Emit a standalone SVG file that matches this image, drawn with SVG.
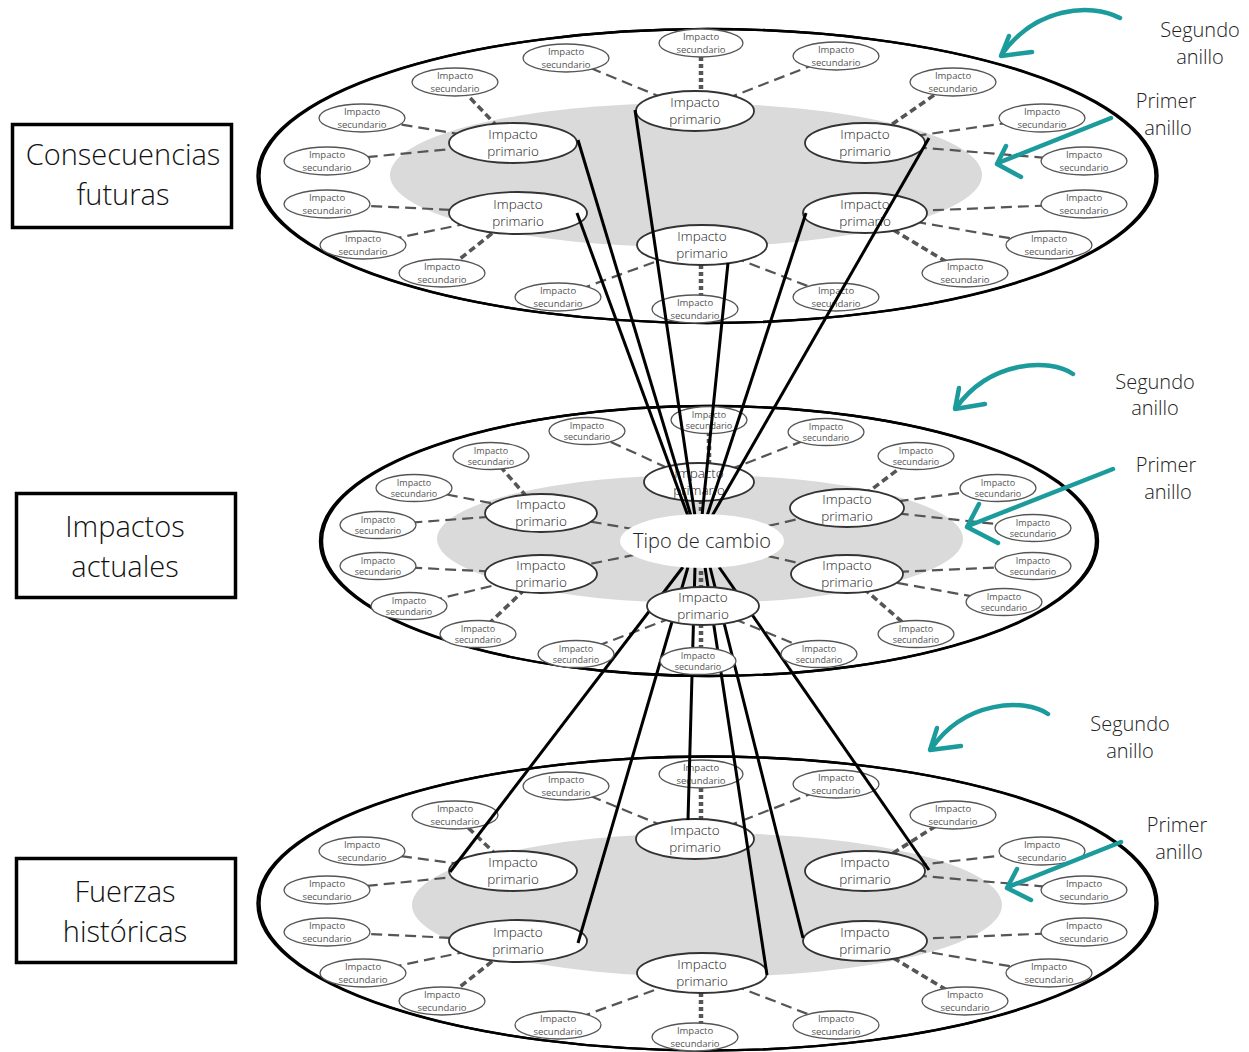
<svg xmlns="http://www.w3.org/2000/svg" width="1249" height="1052" viewBox="0 0 1249 1052">
<style>
text{font-family:"Open Sans","Liberation Sans",sans-serif;text-anchor:middle}
.disk{fill:#fff;stroke:#000;stroke-width:2.4}
.diskb{fill:none;stroke:#000;stroke-width:2.4}
.ring1{fill:#dadada}
.p ellipse{fill:#fff;stroke:#333;stroke-width:1.8}
.p text{font-size:13.5px;font-weight:300;fill:#222}
.s ellipse{fill:#fff;stroke:#555;stroke-width:1.3}
.s text{font-size:9.5px;fill:#555}
.m.s text{font-size:9px}
.dash{stroke:#555;stroke-width:2.2;stroke-dasharray:11 6;fill:none}
.thick{stroke:#555;stroke-width:3.6;stroke-dasharray:7 4;fill:none}
.dot{stroke:#555;stroke-width:4.5;stroke-dasharray:4 3;fill:none}
.solid{stroke:#000;stroke-width:3;fill:none}
.teal{stroke:#1b9b9b;stroke-width:4.5;fill:none;stroke-linecap:round;stroke-linejoin:round}
.box rect{fill:#fff;stroke:#000;stroke-width:3.5}
.box text{font-size:29px;font-weight:300;fill:#111}
.lab{font-size:20px;font-weight:300;fill:#222}
</style>

<!-- disks -->
<g id="disk-top">
<ellipse class="disk" cx="707.5" cy="176" rx="450" ry="147"/>
<ellipse class="diskb" cx="707.5" cy="176" rx="448" ry="147"/>
<ellipse class="ring1" cx="686" cy="175" rx="296" ry="72"/>
</g>
<g id="disk-mid">
<ellipse class="disk" cx="709" cy="541" rx="389" ry="135"/>
<ellipse class="diskb" cx="709" cy="541" rx="387" ry="135"/>
<ellipse class="ring1" cx="700" cy="539" rx="263" ry="64"/>
</g>
<g id="disk-bot">
<ellipse class="disk" cx="707.5" cy="903.5" rx="450" ry="147"/>
<ellipse class="diskb" cx="707.5" cy="903.5" rx="448" ry="147"/>
<ellipse class="ring1" cx="707" cy="905" rx="295" ry="72"/>
</g>

<!-- dashed connectors -->
<g id="connectors-dashed">
<!-- top -->
<line class="dot" x1="701" y1="57" x2="701" y2="92"/>
<line class="dash" x1="695" y1="111" x2="566" y2="58"/>
<line class="dash" x1="695" y1="111" x2="836" y2="56"/>
<line class="thick" x1="513" y1="143" x2="455" y2="82"/>
<line class="dash" x1="513" y1="143" x2="362" y2="118"/>
<line class="dash" x1="513" y1="143" x2="327" y2="161"/>
<line class="dash" x1="518" y1="213" x2="327" y2="204"/>
<line class="dash" x1="518" y1="213" x2="363" y2="245"/>
<line class="thick" x1="518" y1="213" x2="442" y2="273"/>
<line class="dash" x1="702" y1="245" x2="558" y2="297"/>
<line class="dot" x1="701" y1="265" x2="701" y2="296"/>
<line class="dash" x1="702" y1="245" x2="836" y2="297"/>
<line class="thick" x1="865" y1="143" x2="953" y2="82"/>
<line class="dash" x1="865" y1="143" x2="1042" y2="118"/>
<line class="dash" x1="865" y1="143" x2="1084" y2="161"/>
<line class="dash" x1="865" y1="213" x2="1084" y2="204"/>
<line class="dash" x1="865" y1="213" x2="1049" y2="245"/>
<line class="thick" x1="865" y1="213" x2="965" y2="273"/>
<!-- middle -->
<line class="dot" x1="709" y1="432" x2="709" y2="464"/>
<line class="dash" x1="698" y1="482" x2="587" y2="431"/>
<line class="dash" x1="698" y1="482" x2="826" y2="432"/>
<line class="thick" x1="541" y1="513" x2="491" y2="456"/>
<line class="dash" x1="541" y1="513" x2="414" y2="488"/>
<line class="dash" x1="541" y1="513" x2="378" y2="525"/>
<line class="dash" x1="541" y1="574" x2="378" y2="566"/>
<line class="dash" x1="541" y1="574" x2="409" y2="606"/>
<line class="thick" x1="541" y1="574" x2="478" y2="634"/>
<line class="dash" x1="703" y1="606" x2="576" y2="654"/>
<line class="dot" x1="701" y1="624" x2="701" y2="649"/>
<line class="dash" x1="703" y1="606" x2="819" y2="654"/>
<line class="thick" x1="847" y1="508" x2="916" y2="456"/>
<line class="dash" x1="847" y1="508" x2="998" y2="488"/>
<line class="dash" x1="847" y1="508" x2="1033" y2="528"/>
<line class="dash" x1="847" y1="574" x2="1033" y2="566"/>
<line class="dash" x1="847" y1="574" x2="1004" y2="602"/>
<line class="thick" x1="847" y1="574" x2="916" y2="634"/>
<line class="dash" x1="702" y1="541" x2="541" y2="513"/>
<line class="dash" x1="702" y1="541" x2="541" y2="574"/>
<line class="dash" x1="702" y1="541" x2="847" y2="508"/>
<line class="dash" x1="702" y1="541" x2="847" y2="574"/>
<line class="dot" x1="701" y1="500" x2="701" y2="520"/>
<line class="dot" x1="701" y1="564" x2="701" y2="588"/>
<!-- bottom -->
<line class="dot" x1="701" y1="788" x2="701" y2="820"/>
<line class="dash" x1="695" y1="839" x2="566" y2="786"/>
<line class="dash" x1="695" y1="839" x2="836" y2="784"/>
<line class="thick" x1="513" y1="871" x2="455" y2="815"/>
<line class="dash" x1="513" y1="871" x2="362" y2="851"/>
<line class="dash" x1="513" y1="871" x2="327" y2="890"/>
<line class="dash" x1="518" y1="941" x2="327" y2="932"/>
<line class="dash" x1="518" y1="941" x2="363" y2="973"/>
<line class="thick" x1="518" y1="941" x2="442" y2="1001"/>
<line class="dash" x1="702" y1="973" x2="558" y2="1025"/>
<line class="dot" x1="701" y1="993" x2="701" y2="1024"/>
<line class="dash" x1="702" y1="973" x2="836" y2="1025"/>
<line class="thick" x1="865" y1="871" x2="953" y2="815"/>
<line class="dash" x1="865" y1="871" x2="1042" y2="851"/>
<line class="dash" x1="865" y1="871" x2="1084" y2="890"/>
<line class="dash" x1="865" y1="941" x2="1084" y2="932"/>
<line class="dash" x1="865" y1="941" x2="1049" y2="973"/>
<line class="thick" x1="865" y1="941" x2="965" y2="1001"/>
</g>

<!-- top disk nodes -->
<g id="t-p1" class="p" transform="translate(695,111)"><ellipse rx="59" ry="20"/><text y="-4">Impacto</text><text y="13">primario</text></g>
<g id="t-p2" class="p" transform="translate(513,143)"><ellipse rx="64" ry="20"/><text y="-4">Impacto</text><text y="13">primario</text></g>
<g id="t-p3" class="p" transform="translate(865,143)"><ellipse rx="60" ry="20"/><text y="-4">Impacto</text><text y="13">primario</text></g>
<g id="t-p4" class="p" transform="translate(518,213)"><ellipse rx="69" ry="21"/><text y="-4">Impacto</text><text y="13">primario</text></g>
<g id="t-p5" class="p" transform="translate(865,213)"><ellipse rx="62" ry="20"/><text y="-4">Impacto</text><text y="13">primario</text></g>
<g id="t-p6" class="p" transform="translate(702,245)"><ellipse rx="65" ry="20"/><text y="-4">Impacto</text><text y="13">primario</text></g>

<g id="t-s1" class="s" transform="translate(701,43)"><ellipse rx="42" ry="14"/><text y="-3">Impacto</text><text y="9.5">secundario</text></g>
<g id="t-s2" class="s" transform="translate(566,58)"><ellipse rx="43" ry="14"/><text y="-3">Impacto</text><text y="9.5">secundario</text></g>
<g id="t-s3" class="s" transform="translate(836,56)"><ellipse rx="43" ry="14"/><text y="-3">Impacto</text><text y="9.5">secundario</text></g>
<g id="t-s4" class="s" transform="translate(455,82)"><ellipse rx="43" ry="14"/><text y="-3">Impacto</text><text y="9.5">secundario</text></g>
<g id="t-s5" class="s" transform="translate(362,118)"><ellipse rx="43" ry="14"/><text y="-3">Impacto</text><text y="9.5">secundario</text></g>
<g id="t-s6" class="s" transform="translate(327,161)"><ellipse rx="43" ry="14"/><text y="-3">Impacto</text><text y="9.5">secundario</text></g>
<g id="t-s7" class="s" transform="translate(327,204)"><ellipse rx="43" ry="14"/><text y="-3">Impacto</text><text y="9.5">secundario</text></g>
<g id="t-s8" class="s" transform="translate(363,245)"><ellipse rx="43" ry="14"/><text y="-3">Impacto</text><text y="9.5">secundario</text></g>
<g id="t-s9" class="s" transform="translate(442,273)"><ellipse rx="43" ry="14"/><text y="-3">Impacto</text><text y="9.5">secundario</text></g>
<g id="t-s10" class="s" transform="translate(558,297)"><ellipse rx="43" ry="14"/><text y="-3">Impacto</text><text y="9.5">secundario</text></g>
<g id="t-s11" class="s" transform="translate(695,309)"><ellipse rx="43" ry="14"/><text y="-3">Impacto</text><text y="9.5">secundario</text></g>
<g id="t-s12" class="s" transform="translate(836,297)"><ellipse rx="43" ry="14"/><text y="-3">Impacto</text><text y="9.5">secundario</text></g>
<g id="t-s13" class="s" transform="translate(953,82)"><ellipse rx="43" ry="14"/><text y="-3">Impacto</text><text y="9.5">secundario</text></g>
<g id="t-s14" class="s" transform="translate(1042,118)"><ellipse rx="43" ry="14"/><text y="-3">Impacto</text><text y="9.5">secundario</text></g>
<g id="t-s15" class="s" transform="translate(1084,161)"><ellipse rx="43" ry="14"/><text y="-3">Impacto</text><text y="9.5">secundario</text></g>
<g id="t-s16" class="s" transform="translate(1084,204)"><ellipse rx="43" ry="14"/><text y="-3">Impacto</text><text y="9.5">secundario</text></g>
<g id="t-s17" class="s" transform="translate(1049,245)"><ellipse rx="43" ry="14"/><text y="-3">Impacto</text><text y="9.5">secundario</text></g>
<g id="t-s18" class="s" transform="translate(965,273)"><ellipse rx="43" ry="14"/><text y="-3">Impacto</text><text y="9.5">secundario</text></g>

<!-- bottom disk nodes -->
<g id="b-p1" class="p" transform="translate(695,839)"><ellipse rx="59" ry="20"/><text y="-4">Impacto</text><text y="13">primario</text></g>
<g id="b-p2" class="p" transform="translate(513,871)"><ellipse rx="64" ry="20"/><text y="-4">Impacto</text><text y="13">primario</text></g>
<g id="b-p3" class="p" transform="translate(865,871)"><ellipse rx="60" ry="20"/><text y="-4">Impacto</text><text y="13">primario</text></g>
<g id="b-p4" class="p" transform="translate(518,941)"><ellipse rx="69" ry="21"/><text y="-4">Impacto</text><text y="13">primario</text></g>
<g id="b-p5" class="p" transform="translate(865,941)"><ellipse rx="62" ry="20"/><text y="-4">Impacto</text><text y="13">primario</text></g>
<g id="b-p6" class="p" transform="translate(702,973)"><ellipse rx="65" ry="20"/><text y="-4">Impacto</text><text y="13">primario</text></g>

<g id="b-s1" class="s" transform="translate(701,774)"><ellipse rx="42" ry="14"/><text y="-3">Impacto</text><text y="9.5">secundario</text></g>
<g id="b-s2" class="s" transform="translate(566,786)"><ellipse rx="43" ry="14"/><text y="-3">Impacto</text><text y="9.5">secundario</text></g>
<g id="b-s3" class="s" transform="translate(836,784)"><ellipse rx="43" ry="14"/><text y="-3">Impacto</text><text y="9.5">secundario</text></g>
<g id="b-s4" class="s" transform="translate(455,815)"><ellipse rx="43" ry="14"/><text y="-3">Impacto</text><text y="9.5">secundario</text></g>
<g id="b-s5" class="s" transform="translate(362,851)"><ellipse rx="43" ry="14"/><text y="-3">Impacto</text><text y="9.5">secundario</text></g>
<g id="b-s6" class="s" transform="translate(327,890)"><ellipse rx="43" ry="14"/><text y="-3">Impacto</text><text y="9.5">secundario</text></g>
<g id="b-s7" class="s" transform="translate(327,932)"><ellipse rx="43" ry="14"/><text y="-3">Impacto</text><text y="9.5">secundario</text></g>
<g id="b-s8" class="s" transform="translate(363,973)"><ellipse rx="43" ry="14"/><text y="-3">Impacto</text><text y="9.5">secundario</text></g>
<g id="b-s9" class="s" transform="translate(442,1001)"><ellipse rx="43" ry="14"/><text y="-3">Impacto</text><text y="9.5">secundario</text></g>
<g id="b-s10" class="s" transform="translate(558,1025)"><ellipse rx="43" ry="14"/><text y="-3">Impacto</text><text y="9.5">secundario</text></g>
<g id="b-s11" class="s" transform="translate(695,1037)"><ellipse rx="43" ry="14"/><text y="-3">Impacto</text><text y="9.5">secundario</text></g>
<g id="b-s12" class="s" transform="translate(836,1025)"><ellipse rx="43" ry="14"/><text y="-3">Impacto</text><text y="9.5">secundario</text></g>
<g id="b-s13" class="s" transform="translate(953,815)"><ellipse rx="43" ry="14"/><text y="-3">Impacto</text><text y="9.5">secundario</text></g>
<g id="b-s14" class="s" transform="translate(1042,851)"><ellipse rx="43" ry="14"/><text y="-3">Impacto</text><text y="9.5">secundario</text></g>
<g id="b-s15" class="s" transform="translate(1084,890)"><ellipse rx="43" ry="14"/><text y="-3">Impacto</text><text y="9.5">secundario</text></g>
<g id="b-s16" class="s" transform="translate(1084,932)"><ellipse rx="43" ry="14"/><text y="-3">Impacto</text><text y="9.5">secundario</text></g>
<g id="b-s17" class="s" transform="translate(1049,973)"><ellipse rx="43" ry="14"/><text y="-3">Impacto</text><text y="9.5">secundario</text></g>
<g id="b-s18" class="s" transform="translate(965,1001)"><ellipse rx="43" ry="14"/><text y="-3">Impacto</text><text y="9.5">secundario</text></g>

<!-- solid connectors: present to historical forces (pass under middle-disk nodes) -->
<g id="connectors-solid-down">
<line class="solid" x1="683" y1="567" x2="450" y2="872"/>
<line class="solid" x1="688" y1="567" x2="578" y2="943"/>
<line class="solid" x1="695" y1="567" x2="688" y2="820"/>
<line class="solid" x1="705" y1="567" x2="767" y2="975"/>
<line class="solid" x1="710" y1="567" x2="803" y2="938"/>
<line class="solid" x1="719" y1="567" x2="929" y2="870"/>
</g>

<!-- middle disk nodes -->
<g id="m-p1" class="p" transform="translate(699,482)"><ellipse rx="55" ry="19"/><text y="-4">Impacto</text><text y="13">primario</text></g>
<g id="m-p2" class="p" transform="translate(541,513)"><ellipse rx="56" ry="19"/><text y="-4">Impacto</text><text y="13">primario</text></g>
<g id="m-p3" class="p" transform="translate(847,508)"><ellipse rx="57" ry="19"/><text y="-4">Impacto</text><text y="13">primario</text></g>
<g id="m-p4" class="p" transform="translate(541,574)"><ellipse rx="56" ry="19"/><text y="-4">Impacto</text><text y="13">primario</text></g>
<g id="m-p5" class="p" transform="translate(847,574)"><ellipse rx="56" ry="19"/><text y="-4">Impacto</text><text y="13">primario</text></g>
<g id="m-p6" class="p" transform="translate(703,606)"><ellipse rx="56" ry="19"/><text y="-4">Impacto</text><text y="13">primario</text></g>

<g id="m-s1" class="m s" transform="translate(709,420)"><ellipse rx="38" ry="13.5"/><text y="-2.5">Impacto</text><text y="9">secundario</text></g>
<g id="m-s2" class="m s" transform="translate(587,431)"><ellipse rx="38" ry="13.5"/><text y="-2.5">Impacto</text><text y="9">secundario</text></g>
<g id="m-s3" class="m s" transform="translate(826,432)"><ellipse rx="38" ry="13.5"/><text y="-2.5">Impacto</text><text y="9">secundario</text></g>
<g id="m-s4" class="m s" transform="translate(491,456)"><ellipse rx="38" ry="13.5"/><text y="-2.5">Impacto</text><text y="9">secundario</text></g>
<g id="m-s5" class="m s" transform="translate(414,488)"><ellipse rx="38" ry="13.5"/><text y="-2.5">Impacto</text><text y="9">secundario</text></g>
<g id="m-s6" class="m s" transform="translate(378,525)"><ellipse rx="38" ry="13.5"/><text y="-2.5">Impacto</text><text y="9">secundario</text></g>
<g id="m-s7" class="m s" transform="translate(378,566)"><ellipse rx="38" ry="13.5"/><text y="-2.5">Impacto</text><text y="9">secundario</text></g>
<g id="m-s8" class="m s" transform="translate(409,606)"><ellipse rx="38" ry="13.5"/><text y="-2.5">Impacto</text><text y="9">secundario</text></g>
<g id="m-s9" class="m s" transform="translate(478,634)"><ellipse rx="38" ry="13.5"/><text y="-2.5">Impacto</text><text y="9">secundario</text></g>
<g id="m-s10" class="m s" transform="translate(576,654)"><ellipse rx="38" ry="13.5"/><text y="-2.5">Impacto</text><text y="9">secundario</text></g>
<g id="m-s11" class="m s" transform="translate(698,661)"><ellipse rx="38" ry="13.5"/><text y="-2.5">Impacto</text><text y="9">secundario</text></g>
<g id="m-s12" class="m s" transform="translate(819,654)"><ellipse rx="38" ry="13.5"/><text y="-2.5">Impacto</text><text y="9">secundario</text></g>
<g id="m-s13" class="m s" transform="translate(916,456)"><ellipse rx="38" ry="13.5"/><text y="-2.5">Impacto</text><text y="9">secundario</text></g>
<g id="m-s14" class="m s" transform="translate(998,488)"><ellipse rx="38" ry="13.5"/><text y="-2.5">Impacto</text><text y="9">secundario</text></g>
<g id="m-s15" class="m s" transform="translate(1033,528)"><ellipse rx="38" ry="13.5"/><text y="-2.5">Impacto</text><text y="9">secundario</text></g>
<g id="m-s16" class="m s" transform="translate(1033,566)"><ellipse rx="38" ry="13.5"/><text y="-2.5">Impacto</text><text y="9">secundario</text></g>
<g id="m-s17" class="m s" transform="translate(1004,602)"><ellipse rx="38" ry="13.5"/><text y="-2.5">Impacto</text><text y="9">secundario</text></g>
<g id="m-s18" class="m s" transform="translate(916,634)"><ellipse rx="38" ry="13.5"/><text y="-2.5">Impacto</text><text y="9">secundario</text></g>

<!-- solid connectors: present to future consequences (drawn over nodes) -->
<g id="connectors-solid-up">
<line class="solid" x1="578" y1="140" x2="691" y2="516"/>
<line class="solid" x1="577" y1="213" x2="688" y2="516"/>
<line class="solid" x1="635" y1="110" x2="695" y2="516"/>
<line class="solid" x1="728" y1="263" x2="702" y2="516"/>
<line class="solid" x1="806" y1="213" x2="707" y2="516"/>
<line class="solid" x1="929" y1="138" x2="712" y2="516"/>
</g>

<g id="tipo">
<ellipse cx="702" cy="541" rx="82" ry="27" fill="#fff"/>
<text x="702" y="548" style="font-size:20px;font-weight:300;fill:#222">Tipo de cambio</text>
</g>

<!-- level boxes -->
<g id="box-futuras" class="box"><rect x="12.5" y="124.5" width="219" height="103"/><text x="123" y="165">Consecuencias</text><text x="123" y="205">futuras</text></g>
<g id="box-actuales" class="box"><rect x="16.5" y="493.5" width="219" height="104"/><text x="125" y="537">Impactos</text><text x="125" y="577">actuales</text></g>
<g id="box-historicas" class="box"><rect x="16.5" y="858.5" width="219" height="104"/><text x="125" y="902">Fuerzas</text><text x="125" y="942">históricas</text></g>

<!-- ring annotations -->
<g id="ann-top-2">
<path class="teal" d="M1120,18 C1090,2 1035,8 1002,54"/><path class="teal" d="M1009,36 L1001,56 L1032,52"/>
<text class="lab" x="1200" y="37">Segundo</text><text class="lab" x="1200" y="64">anillo</text>
</g>
<g id="ann-top-1">
<path class="teal" d="M1111,118 L998,163"/><path class="teal" d="M1006,146 L997,164 L1021,177"/>
<text class="lab" x="1166" y="108">Primer</text><text class="lab" x="1168" y="135">anillo</text>
</g>
<g id="ann-mid-2">
<path class="teal" d="M1073,374 C1050,358 990,360 956,408"/><path class="teal" d="M959,388 L955,409 L985,404"/>
<text class="lab" x="1155" y="389">Segundo</text><text class="lab" x="1155" y="415">anillo</text>
</g>
<g id="ann-mid-1">
<path class="teal" d="M1113,469 L968,526"/><path class="teal" d="M979,504 L967,527 L998,543"/>
<text class="lab" x="1166" y="472">Primer</text><text class="lab" x="1168" y="499">anillo</text>
</g>
<g id="ann-bot-2">
<path class="teal" d="M1048,714 C1025,698 965,700 931,749"/><path class="teal" d="M937,728 L930,750 L961,746"/>
<text class="lab" x="1130" y="731">Segundo</text><text class="lab" x="1130" y="758">anillo</text>
</g>
<g id="ann-bot-1">
<path class="teal" d="M1121,842 L1008,887"/><path class="teal" d="M1017,869 L1007,888 L1031,900"/>
<text class="lab" x="1177" y="832">Primer</text><text class="lab" x="1179" y="859">anillo</text>
</g>
</svg>
